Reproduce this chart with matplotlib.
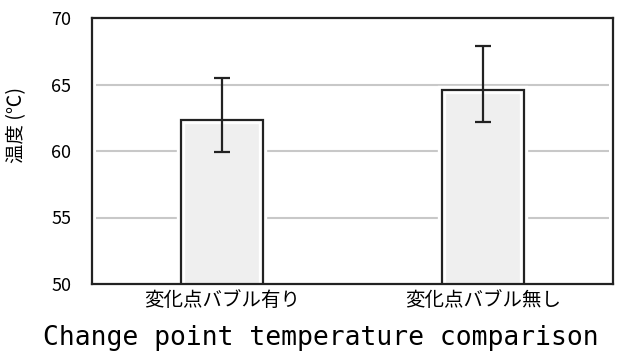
import matplotlib
matplotlib.use("Agg")
import matplotlib.pyplot as plt
import numpy as np

# データ
categories = ['変化点バブル有り', '変化点バブル無し']
temps = [62.3, 64.6]
err_low = [2.4, 2.4]
err_high = [3.2, 3.3]
yticks = [50, 55, 60, 65, 70]

plt.rcParams['font.family'] = ['Noto Sans CJK JP', 'DejaVu Sans']

fig = plt.figure(figsize=(6.22, 3.58), dpi=100)
ax = fig.add_axes([92 / 622, 1 - 284 / 358, 521 / 622, 266 / 358])

x = np.arange(len(categories))

# グリッド線 (枠から少し内側)
for t in yticks[1:-1]:
    ax.hlines(t, -0.485, 1.485, color='#c8c8c8', lw=1.5, zorder=1)

# 棒: 白い縁 -> 塗り -> 黒枠
ax.bar(x, temps, width=0.315, bottom=0, color='#efefef', edgecolor='white',
       linewidth=6, zorder=2)
ax.bar(x, temps, width=0.315, bottom=0, color='none', edgecolor='#222222',
       linewidth=1.6, zorder=3)
ax.errorbar(x, temps, yerr=[err_low, err_high], fmt='none', ecolor='#222222',
            elinewidth=1.6, capsize=6, capthick=1.6, zorder=4)

ax.set_xlim(-0.5, 1.5)
ax.set_ylim(50, 70)
ax.set_yticks(yticks)
ax.set_xticks(x)
ax.set_xticklabels(categories, fontsize=14)
ax.tick_params(axis='y', length=0, pad=15, labelsize=13)
ax.tick_params(axis='x', length=0, pad=4)

for s in ax.spines.values():
    s.set_color('#222222')
    s.set_linewidth(1.6)

ax.set_ylabel('温度 (℃)', fontsize=14)
ax.yaxis.set_label_coords(-0.125, (284 - 125) / 266)

fig.text(321 / 622, 1 - 338 / 358, 'Change point temperature comparison',
         family='DejaVu Sans Mono', fontsize=19, ha='center', va='center')

fig.savefig('out.png', dpi=100)
